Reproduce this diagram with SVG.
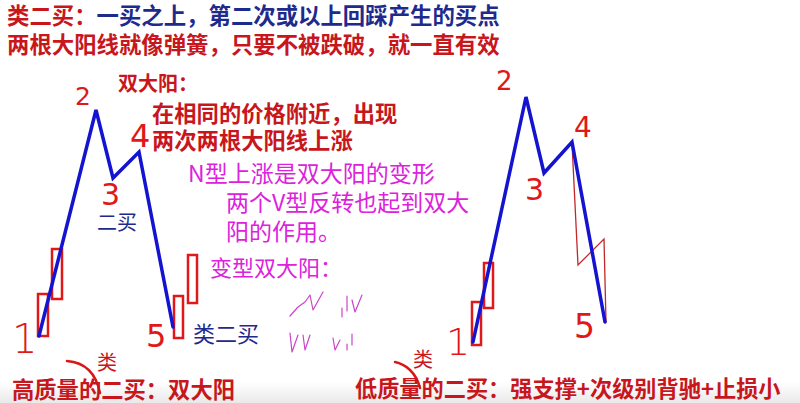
<svg xmlns="http://www.w3.org/2000/svg" width="800" height="403" viewBox="0 0 800 403">
<defs>
<linearGradient id="bg" x1="0" y1="0" x2="0" y2="1">
<stop offset="0" stop-color="#ffffff"/>
<stop offset="1" stop-color="#e9e9e9"/>
</linearGradient>
<style>
.cjk{font-family:"Noto Sans CJK SC","Noto Sans",sans-serif}
.b{font-weight:bold}
.red{fill:#c8161d}
.navy{fill:#1e2a8c}
.mag{fill:#dc22dc}
.num{font-family:"DejaVu Sans","Liberation Sans",sans-serif;fill:#e01818}
.thin{font-weight:200}
.wave{fill:none;stroke:#1414d0;stroke-width:3.5;stroke-linejoin:miter;stroke-linecap:round}
.bar{fill:none;stroke:#e01818;stroke-width:2.5}
.squig{fill:none;stroke:#cc44cc;stroke-width:1.2;stroke-linecap:round;stroke-linejoin:round}
.hand{fill:none;stroke:#d81818;stroke-width:2.5;stroke-linecap:round}
</style>
</defs>
<rect width="800" height="403" fill="#ffffff"/>
<rect x="0" y="382" width="800" height="21" fill="url(#bg)"/>

<g id="title">
<text class="cjk b" x="7" y="24" font-size="22.4"><tspan class="red">类二买：</tspan><tspan class="navy">一买之上，第二次或以上回踩产生的买点</tspan></text>
<text class="cjk b red" x="7" y="53" font-size="22.4">两根大阳线就像弹簧，只要不被跌破，就一直有效</text>
</g>

<g id="note-shuangdayang">
<text class="cjk b red" x="118" y="91" font-size="20">双大阳：</text>
<text class="cjk b red" x="152" y="122" font-size="22.3">在相同的价格附近，出现</text>
<text class="cjk b red" x="152" y="149" font-size="22.3">两次两根大阳线上涨</text>
</g>

<g id="note-N">
<text class="cjk mag" x="188" y="182" font-size="23">N型上涨是双大阳的变形</text>
<text class="cjk mag" x="226" y="211" font-size="23">两个V型反转也起到双大</text>
<text class="cjk mag" x="226" y="240" font-size="23">阳的作用。</text>
</g>

<g id="note-variant">
<text class="cjk mag" x="210" y="276" font-size="22">变型双大阳：</text>
<path class="squig" d="M290,316 L298,307 L305,302 L310,295 L313,310 L323,292"/>
<path class="squig" d="M342,308 L342,317 M347,296 L347,311 M352,300 L355,312 L362,295"/>
<path class="squig" d="M290,333 L292,352 L298,335 M303,335 L305,350 L310,335"/>
<path class="squig" d="M333,338 L335,350 L340,340 M347,344 L347,350 M352,334 L352,345"/>
</g>

<g id="left-chart">
<rect class="bar" x="38" y="294" width="10" height="42"/>
<rect class="bar" x="52" y="249" width="10" height="50"/>
<rect class="bar" x="174" y="296" width="9" height="42"/>
<rect class="bar" x="188" y="255" width="9" height="48"/>
<text class="num thin" x="12" y="353" font-size="40">1</text>
<text class="num" x="75" y="105" font-size="25">2</text>
<text class="num" x="101" y="205" font-size="30">3</text>
<text class="num" x="130" y="147" font-size="32">4</text>
<text class="num" x="146" y="347" font-size="32">5</text>
<text class="cjk navy" x="97" y="230" font-size="20">二买</text>
<text class="cjk navy" x="193" y="342" font-size="22">类二买</text>
</g>

<g id="right-chart">
<rect class="bar" x="472" y="302" width="9" height="43"/>
<rect class="bar" x="484" y="263" width="9" height="45"/>
<path d="M572,143 L578,265 L604,239 L606,322" fill="none" stroke="#c0282a" stroke-width="1.3"/>
<text class="num thin" x="446" y="355" font-size="38">1</text>
<text class="num" x="496" y="90" font-size="26">2</text>
<text class="num" x="525" y="200" font-size="30">3</text>
<text class="num" x="574" y="137" font-size="28">4</text>
<text class="num" x="574" y="338" font-size="33">5</text>
</g>

<g id="connectors">
<polyline class="wave" points="39,336 96,110 113,178 139,152 173,327"/>
<polyline class="wave" points="473,342 526,97 544,173 572,142 605,322"/>
</g>

<g id="bottom-left">
<path class="hand" d="M67,361 C80,362 95,368 100,393"/>
<text class="cjk red" x="97" y="370" font-size="20">类</text>
<text class="cjk b red" x="12" y="398" font-size="22.3">高质量的二买：双大阳</text>
</g>

<g id="bottom-right">
<path class="hand" d="M395,362 C405,364 416,372 420,388"/>
<text class="cjk red" x="413" y="367" font-size="20">类</text>
<text class="cjk b red" x="355" y="397" font-size="22.2">低质量的二买：强支撑+次级别背驰+止损小</text>
</g>
</svg>
